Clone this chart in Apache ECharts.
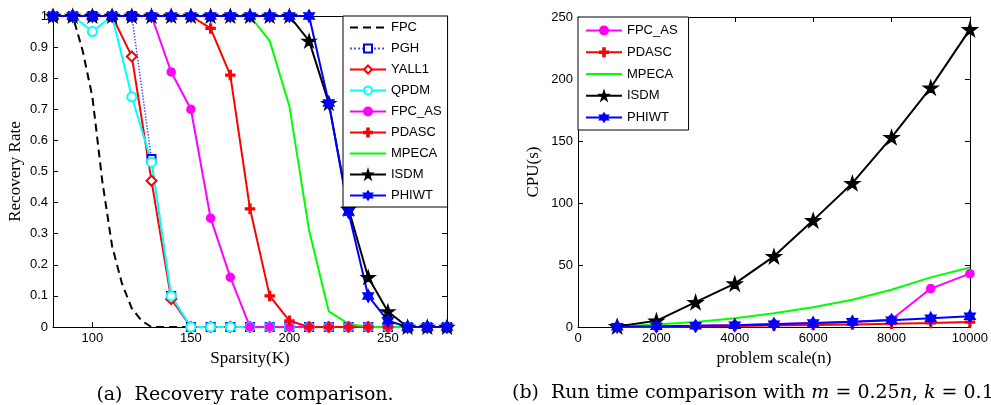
<!DOCTYPE html>
<html>
<head>
<meta charset="utf-8">
<script src="https://cdn.jsdelivr.net/npm/echarts@6/dist/echarts.min.js"></script>
<style>
html, body { margin: 0; padding: 0; background: #fff; }
#main { width: 991px; height: 405px; }
</style>
</head>
<body>
<div id="main"></div>
<script>
// (a) recovery rate vs sparsity K
var sparsity = [80, 90, 100, 110, 120, 130, 140, 150, 160, 170, 180, 190, 200, 210, 220, 230, 240, 250, 260, 270, 280];
var fpcK     = [80, 90, 95, 100, 105, 110, 115, 120, 125, 130, 280];
var fpcRate  = [1, 1, 0.89, 0.74, 0.47, 0.26, 0.14, 0.06, 0.02, 0, 0];
var pghRate   = [1, 1, 1, 1, 1, 0.54, 0.10, 0, 0, 0, 0, 0, 0, 0, 0, 0, 0, 0, 0, 0, 0];
var yall1Rate = [1, 1, 1, 1, 0.87, 0.47, 0.09, 0, 0, 0, 0, 0, 0, 0, 0, 0, 0, 0, 0, 0, 0];
var qpdmRate  = [1, 1, 0.95, 1, 0.74, 0.53, 0.10, 0, 0, 0, 0, 0, 0, 0, 0, 0, 0, 0, 0, 0, 0];
var fpcAsRate = [1, 1, 1, 1, 1, 1, 0.82, 0.70, 0.35, 0.16, 0, 0, 0, 0, 0, 0, 0, 0, 0, 0, 0];
var pdascRate = [1, 1, 1, 1, 1, 1, 1, 1, 0.96, 0.81, 0.38, 0.10, 0.02, 0, 0, 0, 0, 0, 0, 0, 0];
var mpecaRate = [1, 1, 1, 1, 1, 1, 1, 1, 1, 1, 1, 0.92, 0.71, 0.31, 0.05, 0.01, 0, 0, 0, 0, 0];
var isdmRate  = [1, 1, 1, 1, 1, 1, 1, 1, 1, 1, 1, 1, 1, 0.92, 0.72, 0.38, 0.16, 0.05, 0, 0, 0];
var phiwtRate = [1, 1, 1, 1, 1, 1, 1, 1, 1, 1, 1, 1, 1, 1, 0.72, 0.37, 0.10, 0.02, 0, 0, 0];
var leftXTicks = [100, 150, 200, 250];

// (b) CPU time vs problem scale n
var scale    = [1000, 2000, 3000, 4000, 5000, 6000, 7000, 8000, 9000, 10000];
var cpuFpcAs = [0.2, 0.5, 1, 1.5, 2.5, 3, 4, 6, 31, 43];
var cpuPdasc = [0.1, 0.3, 0.5, 0.8, 1.2, 1.6, 2.1, 2.7, 3.3, 4];
var cpuMpeca = [0.5, 2, 4, 7, 11, 16, 22, 30, 40, 48];
var cpuIsdm  = [0.5, 5, 20, 35, 57, 86, 116, 153, 193, 240];
var cpuPhiwt = [0.3, 0.6, 1, 1.5, 2.3, 3.2, 4.2, 5.5, 7, 8.6];

var STAR = 'path://M50,0 L61,35 L98,35 L68,57 L79,91 L50,70 L21,91 L32,57 L2,35 L39,35 Z';
var HEXA = 'path://M50,0 L64,25 L93,25 L79,50 L93,75 L64,75 L50,100 L36,75 L7,75 L21,50 L7,25 L36,25 Z';
var PLUS = 'path://M40,0 H60 V40 H100 V60 H60 V100 H40 V60 H0 V40 H40 Z';

var sans = 'Liberation Sans';
var serif = 'Liberation Serif';

function pairs(xs, ys) {
    return xs.map(function (x, i) { return [x, ys[i]]; });
}

function axis(grid, pos, min, max, opt) {
    var a = {
        type: 'value', gridIndex: grid, position: pos, min: min, max: max,
        axisLine: { show: true, onZero: false, lineStyle: { color: '#000', width: 1 } },
        axisTick: { show: true, inside: true, length: 5, lineStyle: { color: '#000' } },
        axisLabel: {
            show: pos === 'bottom' || pos === 'left', color: '#000', fontFamily: sans, fontSize: 13, margin: 5,
            formatter: function (v) { return String(v); }
        },
        splitLine: { show: false }
    };
    return Object.assign(a, opt || {});
}

function ser(name, data, color, symbol, size, extra, xi, yi) {
    var s = {
        name: name, type: 'line', xAxisIndex: xi, yAxisIndex: yi, data: data,
        symbol: symbol, symbolSize: size, symbolKeepAspect: true,
        lineStyle: { color: color, width: 2 },
        itemStyle: { color: color, borderColor: color, borderWidth: 1.5 },
        z: 2
    };
    return Object.assign(s, extra || {});
}

var leftX = function (pos) {
    return axis(0, pos, 80, 280, {
        axisTick: { show: true, inside: true, length: 5, lineStyle: { color: '#000' }, customValues: leftXTicks },
        axisLabel: { show: pos === 'bottom', color: '#000', fontFamily: sans, fontSize: 13, margin: 5, customValues: leftXTicks },
        name: pos === 'bottom' ? 'Sparsity(K)' : '', nameLocation: 'middle', nameGap: 20,
        nameTextStyle: { fontFamily: serif, fontSize: 17, color: '#000' }
    });
};

// legend entries for lines drawn without markers
function bare(name) {
    return { name: name, itemStyle: { opacity: 0 } };
}

var chart = echarts.init(document.getElementById('main'));
var option = {
    animation: false,
    backgroundColor: '#fff',
    grid: [
        { left: 53, top: 16, width: 394, height: 311 },
        { left: 578, top: 17, width: 393, height: 310 }
    ],
    xAxis: [
        leftX('bottom'),
        leftX('top'),
        axis(1, 'bottom', 0, 10000, { interval: 2000, name: 'problem scale(n)', nameLocation: 'middle', nameGap: 22,
            nameTextStyle: { fontFamily: serif, fontSize: 17, color: '#000' } }),
        axis(1, 'top', 0, 10000, { interval: 2000 })
    ],
    yAxis: [
        axis(0, 'left', 0, 1, { interval: 0.1, name: 'Recovery Rate', nameLocation: 'middle', nameGap: 29,
            nameTextStyle: { fontFamily: serif, fontSize: 17, color: '#000' } }),
        axis(0, 'right', 0, 1, { interval: 0.1 }),
        axis(1, 'left', 0, 250, { interval: 50, name: 'CPU(s)', nameLocation: 'middle', nameGap: 36,
            nameTextStyle: { fontFamily: serif, fontSize: 17, color: '#000' } }),
        axis(1, 'right', 0, 250, { interval: 50 })
    ],
    legend: [
        {
            orient: 'vertical', left: 343, top: 16, selectedMode: false,
            data: [bare('FPC'), 'PGH', 'YALL1', 'QPDM', 'FPC_AS', 'PDASC', bare('MPECA'), 'ISDM', 'PHIWT'],
            itemWidth: 36, itemHeight: 10, itemGap: 8, padding: [5, 6, 5, 6],
            backgroundColor: '#fff', borderColor: '#000', borderWidth: 1, borderRadius: 0,
            textStyle: { fontFamily: sans, fontSize: 13, color: '#000' }
        },
        {
            orient: 'vertical', left: 578, top: 17, selectedMode: false,
            data: ['FPC_AS', 'PDASC', bare('MPECA'), 'ISDM', 'PHIWT'],
            itemWidth: 36, itemHeight: 10, itemGap: 8.75, padding: [7, 11, 6, 7],
            backgroundColor: '#fff', borderColor: '#000', borderWidth: 1, borderRadius: 0,
            textStyle: { fontFamily: sans, fontSize: 13, color: '#000' }
        }
    ],
    series: [
        ser('FPC', pairs(fpcK, fpcRate), '#000', 'none', 0, { lineStyle: { color: '#000', width: 2, type: [8, 5] } }, 0, 0),
        ser('PGH', pairs(sparsity, pghRate), '#0000ff', 'emptyRect', 8, { lineStyle: { color: '#4d4dff', width: 1.5, type: 'dotted' } }, 0, 0),
        ser('YALL1', pairs(sparsity, yall1Rate), '#ff0000', 'emptyDiamond', 10, null, 0, 0),
        ser('QPDM', pairs(sparsity, qpdmRate), '#00ffff', 'emptyCircle', 9, null, 0, 0),
        ser('FPC_AS', pairs(sparsity, fpcAsRate), '#ff00ff', 'circle', 8, null, 0, 0),
        ser('PDASC', pairs(sparsity, pdascRate), '#ff0000', PLUS, 9, null, 0, 0),
        ser('MPECA', pairs(sparsity, mpecaRate), '#00ff00', 'none', 0, null, 0, 0),
        ser('ISDM', pairs(sparsity, isdmRate), '#000', STAR, 13, null, 0, 0),
        ser('PHIWT', pairs(sparsity, phiwtRate), '#0000ff', HEXA, 12, null, 0, 0),

        ser('FPC_AS', pairs(scale, cpuFpcAs), '#ff00ff', 'circle', 8, null, 2, 2),
        ser('PDASC', pairs(scale, cpuPdasc), '#ff0000', PLUS, 9, null, 2, 2),
        ser('MPECA', pairs(scale, cpuMpeca), '#00ff00', 'none', 0, null, 2, 2),
        ser('ISDM', pairs(scale, cpuIsdm), '#000', STAR, 14, null, 2, 2),
        ser('PHIWT', pairs(scale, cpuPhiwt), '#0000ff', HEXA, 12, null, 2, 2)
    ],
    graphic: [
        {
            type: 'text', x: 245, y: 395,
            style: {
                text: '(a)  Recovery rate comparison.',
                fontFamily: 'DejaVu Serif', fontSize: 19, fill: '#000',
                align: 'center', verticalAlign: 'middle'
            }
        },
        {
            type: 'text', x: 512, y: 393,
            style: {
                text: '(b)  Run time comparison with {i|m} = 0.25{i|n}, {i|k} = 0.1{i|m}',
                fontFamily: 'DejaVu Serif', fontSize: 19, fill: '#000',
                align: 'left', verticalAlign: 'middle',
                rich: { i: { fontFamily: 'DejaVu Serif', fontSize: 19, fontStyle: 'italic', fill: '#000' } }
            }
        }
    ]
};
chart.setOption(option);
</script>
</body>
</html>
